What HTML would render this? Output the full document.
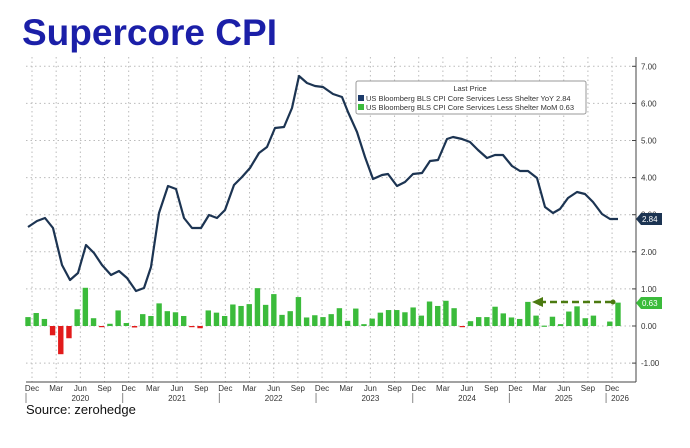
<!DOCTYPE html><html><head><style>body{margin:0;background:#fff;width:690px;height:443px;overflow:hidden;font-family:"Liberation Sans",sans-serif}</style></head><body>
<svg width="690" height="443" xmlns="http://www.w3.org/2000/svg" font-family="Liberation Sans, sans-serif">
<text x="22" y="45" font-size="37" font-weight="bold" fill="#1b1fa8">Supercore CPI</text>
<g id="grid" stroke="#bbb" stroke-dasharray="1.5,3" stroke-width="1"></g>
<g id="bars"></g>
<polyline id="line" fill="none" stroke="#1c3452" stroke-width="2.2" stroke-linejoin="round"/>
<line x1="636" y1="57" x2="636" y2="382" stroke="#444"/>
<line x1="26" y1="382" x2="636" y2="382" stroke="#444"/>
<g id="yl" font-size="8" fill="#333"></g>
<g id="xl" font-size="8" fill="#333"></g>
<rect x="356" y="81" width="230" height="33" fill="#fff" stroke="#999" rx="2"/>
<text x="470" y="91" font-size="7.5" text-anchor="middle" fill="#333">Last Price</text>
<rect x="358" y="95" width="6" height="6" fill="#1c3a6a"/><text x="366" y="101" font-size="7.5" fill="#333">US Bloomberg BLS CPI Core Services Less Shelter YoY  2.84</text>
<rect x="358" y="104" width="6" height="6" fill="#3bbb3b"/><text x="366" y="110" font-size="7.5" fill="#333">US Bloomberg BLS CPI Core Services Less Shelter MoM 0.63</text>
<line x1="612" y1="302" x2="542" y2="302" stroke="#4b7a10" stroke-width="2.5" stroke-dasharray="7,4"/>
<polygon points="532,302 543,297 543,307" fill="#4b7a10"/><circle cx="613" cy="302" r="2.5" fill="#4b7a10"/>
<polygon points="636,219 641,213 662,213 662,225 641,225" fill="#1c3452"/><text x="642" y="222" font-size="8" fill="#fff">2.84</text>
<polygon points="636,303 641,297 662,297 662,309 641,309" fill="#3bbb3b"/><text x="642" y="306" font-size="8" fill="#fff">0.63</text>
<text x="26" y="414" font-size="13" fill="#111">Source: zerohedge</text>
</svg>
<script>
const ns="http://www.w3.org/2000/svg";
function el(p,t,a,txt){const e=document.createElementNS(ns,t);for(const k in a)e.setAttribute(k,a[k]);if(txt)e.textContent=txt;document.getElementById(p).appendChild(e);}
const Y=v=>326-37.1*v;
for(let v=-1;v<=7;v++){el('grid','line',{x1:26,x2:636,y1:Y(v),y2:Y(v)});el('yl','text',{x:641,y:Y(v)+3},v.toFixed(2));el('yl','line',{x1:632,x2:636,y1:Y(v),y2:Y(v),stroke:'#444'});}
const mons=["Dec","Mar","Jun","Sep"];
for(let k=0;k<=24;k++){const x=32+k*24.17;el('grid','line',{x1:x,x2:x,y1:57,y2:382});el('xl','text',{x:x,y:391,'text-anchor':'middle'},mons[k%4]);
if(k%4==0){el('xl','line',{x1:x-6,x2:x-6,y1:393,y2:403,stroke:'#888'});}
if(k%4==2){el('xl','text',{x:x,y:401,'text-anchor':'middle'},String(2020+(k-2)/4));}}
el('xl','text',{x:620,y:401,'text-anchor':'middle'},"2026");
const b=[0.24,0.35,0.19,-0.25,-0.76,-0.33,0.45,1.03,0.21,-0.03,0.06,0.42,0.08,-0.04,0.32,0.27,0.61,0.40,0.37,0.27,-0.03,-0.06,0.42,0.36,0.27,0.58,0.54,0.59,1.02,0.57,0.86,0.30,0.40,0.78,0.23,0.29,0.24,0.32,0.48,0.14,0.47,0.05,0.2,0.36,0.43,0.43,0.37,0.5,0.28,0.66,0.54,0.68,0.48,-0.02,0.13,0.24,0.24,0.52,0.34,0.23,0.19,0.65,0.28,0.01,0.25,0.05,0.39,0.53,0.21,0.28,0,0.12,0.63];
b.forEach((v,i)=>{const x=28+i*(590/72);const y0=Y(0),y1=Y(v);el('bars','rect',{x:x-2.7,width:5.4,y:Math.min(y0,y1),height:Math.max(Math.abs(y1-y0),v==0?0:1.2),fill:v<0?'#e21b1b':'#3bbb3b'});});
const p="28,227 37,221 45,218 53,228 62,265 70,280 78,273 86,245 94,253 102,265 111,275 119,271 127,278 136,291 144,288 151,267 159,213 168,186 176,189 184,218 192,228 201,228 209,215 217,218 225,210 234,185 242,177 250,168 259,153 267,147 275,128 284,127 292,108 299,76 307,83 315,86 323,87 333,94 342,97 348,112 357,132 365,157 373,179 382,175 388,174 397,186 405,182 413,174 422,173 430,161 438,160 447,139 453,137 462,139 470,142 478,150 487,158 495,155 503,155 512,166 520,171 528,171 537,178 545,207 553,213 560,209 568,198 577,192 585,194 593,202 602,214 610,219 618,219";
document.getElementById('line').setAttribute('points',p);
</script></body></html>
